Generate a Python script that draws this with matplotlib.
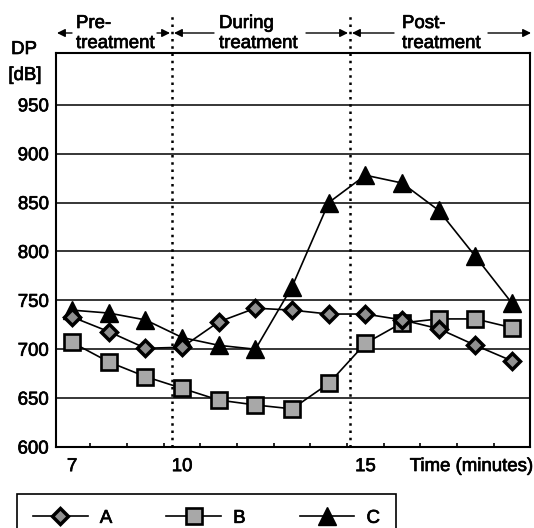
import matplotlib
matplotlib.use('Agg')
import matplotlib.pyplot as plt
import matplotlib.patheffects as pe
from matplotlib.patches import FancyArrowPatch

plt.rcParams['font.family'] = ['Liberation Sans', 'DejaVu Sans']

# ---- data ----
minutes = [7, 8, 9, 10, 11, 12, 13, 14, 15, 16, 17, 18, 19]
series_a = [733, 718, 701, 702, 728, 742, 740, 736, 736, 730, 721, 704, 688]
series_b = [707, 687, 672, 660, 648, 643, 639, 665, 706, 727, 731, 731, 722]
series_c = [740, 737, 730, 712, 704, 700, 764, 850, 878, 870, 842, 795, 747]
series_labels = ['A', 'B', 'C']
y_ticks = [600, 650, 700, 750, 800, 850, 900, 950]
x_tick_labels = [7, 10, 15]
phase_bounds = [9.72, 14.58]
phase_line1 = ['Pre-', 'During', 'Post-']
phase_line2 = ['treatment', 'treatment', 'treatment']

# ---- layout helpers (pixels of the 534x528 canvas) ----
W, H = 534, 528
FS = 13.4
BOLDEN = [pe.withStroke(linewidth=0.5, foreground='black')]


def fx(px):
    return px / W


def fy(py):
    return 1 - py / H


fig = plt.figure(figsize=(W / 100, H / 100), dpi=100)
ax = fig.add_axes([fx(56), fy(447), (530 - 56) / W, (447 - 53) / H])

ax.set_xlim(6.56, 19.49)
ax.set_ylim(600, 1003)

# grid
ax.set_yticks(y_ticks)
ax.set_yticklabels([str(v) for v in y_ticks], fontsize=FS)
ax.grid(axis='y', color='black', lw=1.1)
ax.set_axisbelow(True)
ax.tick_params(axis='y', length=0, pad=5)

ax.set_xticks(x_tick_labels)
ax.set_xticklabels([str(v) for v in x_tick_labels], fontsize=FS)
ax.set_xticks([m + 0.5 for m in minutes[:-1]], minor=True)
ax.tick_params(axis='x', which='major', length=0, pad=8)
ax.tick_params(axis='x', which='minor', direction='in', length=3, width=1.2, color='black')

for lab in ax.get_xticklabels() + ax.get_yticklabels():
    lab.set_path_effects(BOLDEN)

for s in ax.spines.values():
    s.set_linewidth(1.5)
    s.set_color('black')

# series
lc = ax.plot(minutes, series_c, color='black', lw=1.2, marker='^', ms=13,
             mfc='black', mec='black', mew=1.0, label=series_labels[2], zorder=3)[0]
lb = ax.plot(minutes, series_b, color='black', lw=1.2, marker='s', ms=11,
             mfc='#a8a8a8', mec='black', mew=1.9, label=series_labels[1], zorder=4)[0]
la = ax.plot(minutes, series_a, color='black', lw=1.2, marker='D', ms=8,
             mfc='#909090', mec='black', mew=2.5, label=series_labels[0], zorder=5)[0]

# phase boundaries (dotted, extending above the plot)
for xb in phase_bounds:
    ax.plot([xb, xb], [0, (447 - 13) / 394], transform=ax.get_xaxis_transform(),
            clip_on=False, color='black', lw=1.8, ls=(0, (1, 1.9)), zorder=6)

# phase headings
phase_left = [76, 219, 402]
for x0, t1, t2 in zip(phase_left, phase_line1, phase_line2):
    fig.text(fx(x0), fy(28), t1, ha='left', va='baseline', fontsize=FS, path_effects=BOLDEN)
    fig.text(fx(x0), fy(48), t2, ha='left', va='baseline', fontsize=FS, path_effects=BOLDEN)

arrows = [(72, 57), (157, 170), (214, 174), (306, 348), (394, 352), (488, 531)]
for a, b in arrows:
    fig.add_artist(FancyArrowPatch((fx(a), fy(33)), (fx(b), fy(33)),
                                   transform=fig.transFigure,
                                   arrowstyle='-|>,head_length=0.6,head_width=0.3',
                                   mutation_scale=8, lw=1.0, color='black',
                                   shrinkA=0, shrinkB=0))

# axis labels
fig.text(fx(24), fy(54), 'DP', ha='center', va='baseline', fontsize=FS, path_effects=BOLDEN)
fig.text(fx(25), fy(80), '[dB]', ha='center', va='baseline', fontsize=FS, path_effects=BOLDEN)
fig.text(fx(533), fy(471), 'Time (minutes)', ha='right', va='baseline', fontsize=FS,
         path_effects=BOLDEN)

# legend
leg = fig.legend([la, lb, lc], series_labels, loc='upper left',
                 bbox_to_anchor=(fx(17), fy(494)), bbox_transform=fig.transFigure,
                 ncol=3, frameon=True, fancybox=False, edgecolor='black',
                 framealpha=1, borderpad=0.85, borderaxespad=0,
                 handlelength=2.95, handletextpad=0.65, columnspacing=2.9,
                 fontsize=FS)
leg.get_frame().set_linewidth(1.2)
for t in leg.get_texts():
    t.set_path_effects(BOLDEN)

fig.savefig('out.png', dpi=100)
